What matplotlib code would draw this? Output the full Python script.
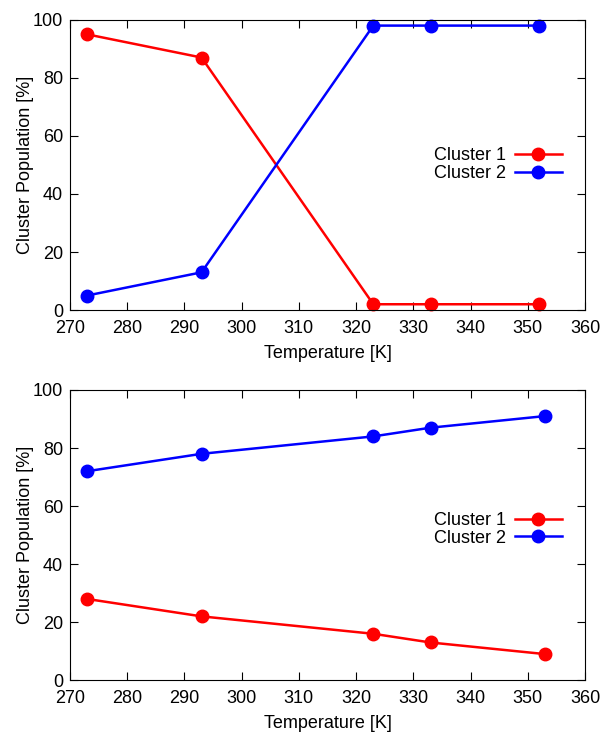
import matplotlib
matplotlib.use('Agg')
import matplotlib.pyplot as plt

plt.rcParams['font.family'] = ['Liberation Sans', 'DejaVu Sans']

# top panel
temp_top = [273, 293, 323, 333, 352]
c1_top = [95, 87, 2, 2, 2]
c2_top = [5, 13, 98, 98, 98]

# bottom panel
temp_bot = [273, 293, 323, 333, 353]
c1_bot = [28, 22, 16, 13, 9]
c2_bot = [72, 78, 84, 87, 91]

xticks = list(range(270, 361, 10))
yticks = list(range(0, 101, 20))

fig = plt.figure(figsize=(6.02, 7.33), dpi=100)
ax1 = fig.add_axes([0.116, 0.577, 0.856, 0.396])
ax2 = fig.add_axes([0.116, 0.072, 0.856, 0.396])

panels = [(ax1, temp_top, c1_top, c2_top, 0.50), (ax2, temp_bot, c1_bot, c2_bot, 0.52)]
for ax, t, c1, c2, ly in panels:
    ax.plot(t, c1, color='#ff0000', lw=1.8, marker='o', ms=9, label='Cluster 1', clip_on=False)
    ax.plot(t, c2, color='#0000ff', lw=1.8, marker='o', ms=9, label='Cluster 2', clip_on=False)
    ax.set_xlim(270, 360)
    ax.set_ylim(0, 100)
    ax.set_xticks(xticks)
    ax.set_yticks(yticks)
    ax.tick_params(direction='in', top=True, right=True, length=6, labelsize=13)
    ax.tick_params(axis='x', pad=7)
    ax.tick_params(axis='y', pad=5)
    ax.set_xlabel('Temperature [K]', fontsize=13, labelpad=6)
    ax.set_ylabel('Cluster Population [%]', fontsize=13, labelpad=-1)
    ax.legend(loc='center', bbox_to_anchor=(0.83, ly), frameon=False, markerfirst=False,
              fontsize=13, handlelength=2.6, handletextpad=0.5, labelspacing=0.05)

plt.savefig('out.png', dpi=100)
